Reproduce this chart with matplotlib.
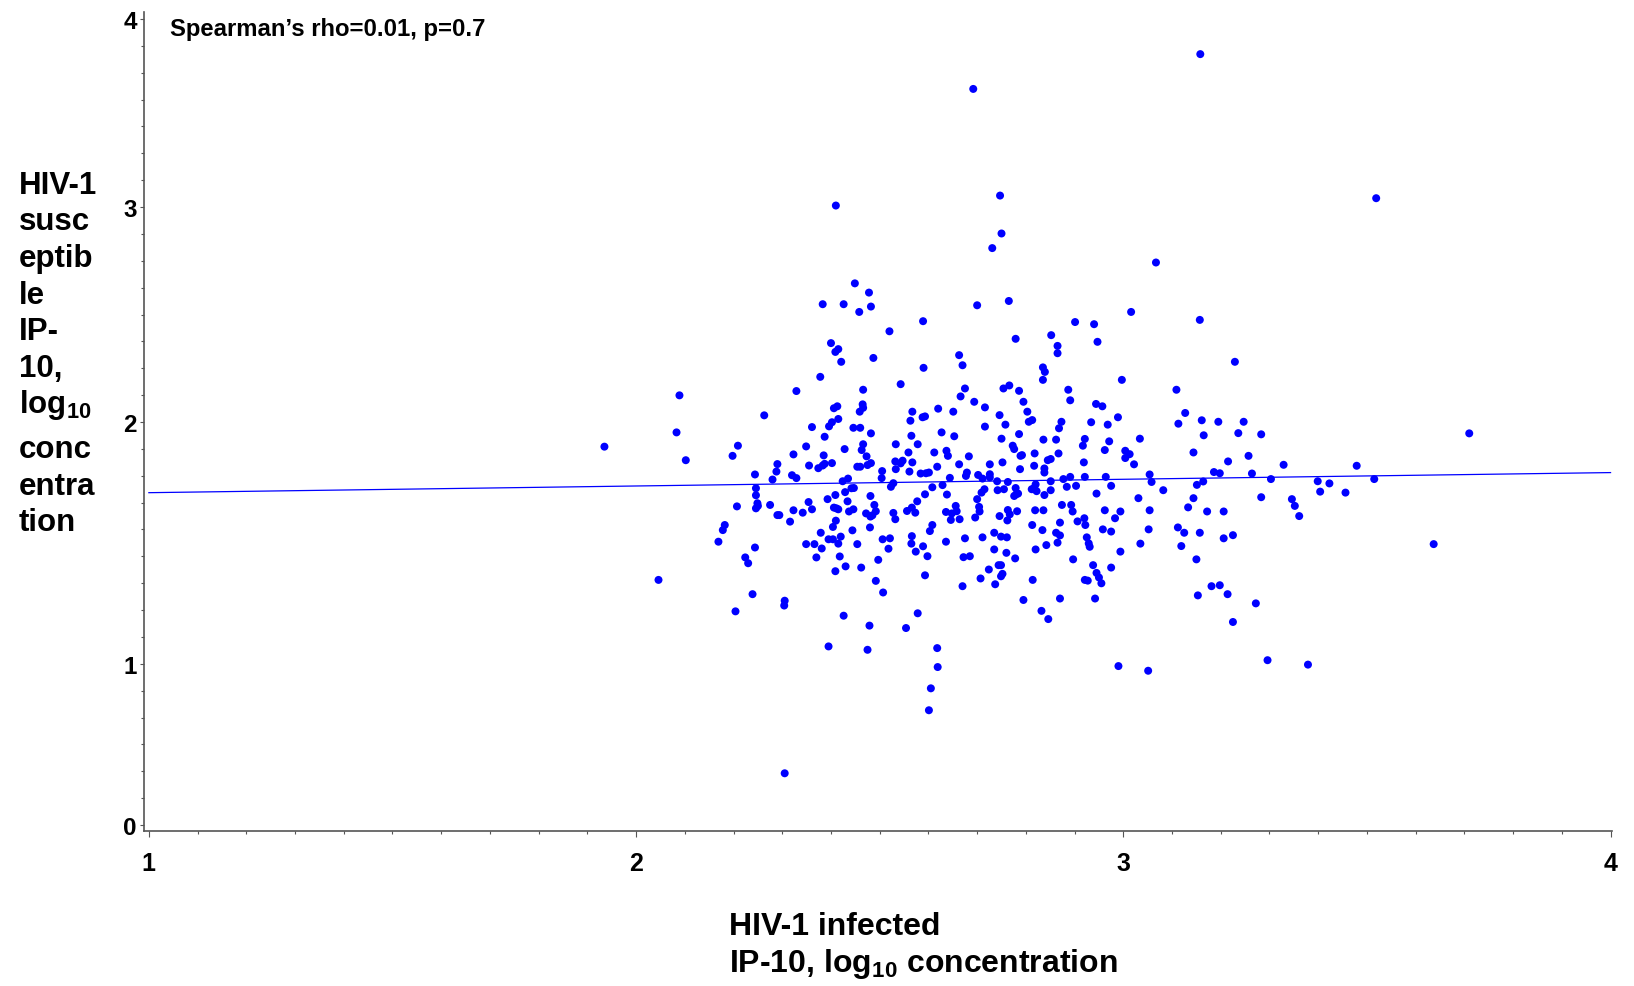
import numpy as np
import matplotlib
matplotlib.use("Agg")
import matplotlib.pyplot as plt
from matplotlib.ticker import FixedLocator

plt.rcParams['font.family'] = ['Liberation Sans', 'DejaVu Sans']
plt.rcParams['font.weight'] = 'bold'
plt.rcParams['mathtext.fontset'] = 'custom'
plt.rcParams['mathtext.rm'] = 'Liberation Sans:bold'
plt.rcParams['mathtext.bf'] = 'Liberation Sans:bold'
plt.rcParams['mathtext.default'] = 'bf'

# IP-10, log10 concentration: HIV-1 infected partner (x) vs susceptible partner (y)
infected = [
    3.158, 2.692, 3.519, 2.747, 2.410, 2.750, 2.731, 3.067, 2.449, 2.478,
    2.383, 2.426, 2.458, 2.482, 2.589, 2.520, 2.400, 2.409, 2.415, 2.421,
    2.487, 2.590, 2.378, 2.543, 2.329, 2.466, 2.089, 2.263, 2.406, 2.413,
    2.465, 2.466, 2.459, 2.567, 2.620, 2.563, 2.588, 2.593, 2.083, 2.361,
    2.396, 2.402, 2.415, 2.446, 2.460, 2.387, 2.482, 2.565, 2.627, 1.935,
    2.209, 2.198, 2.102, 2.349, 2.428, 2.466, 2.463, 2.533, 2.578, 2.559,
    2.612, 2.637, 2.640, 2.323, 2.385, 2.473, 2.290, 2.288, 2.355, 2.374,
    2.383, 2.387, 2.402, 2.454, 2.460, 2.475, 2.482, 2.532, 2.533, 2.543,
    2.547, 2.567, 2.561, 2.618, 2.505, 2.504, 2.584, 2.595, 2.601, 2.244,
    2.280, 2.320, 2.329, 2.424, 2.435, 2.246, 2.246, 2.249, 2.246, 2.250,
    2.207, 2.275, 2.290, 2.294, 2.316, 2.323, 2.342, 2.354, 2.361, 2.393,
    2.409, 2.406, 2.411, 2.415, 2.429, 2.434, 2.442, 2.447, 2.437, 2.446,
    2.481, 2.489, 2.492, 2.472, 2.481, 2.485, 2.523, 2.528, 2.528, 2.532,
    2.556, 2.566, 2.573, 2.577, 2.593, 2.608, 2.629, 2.638, 2.636, 2.182,
    2.178, 2.169, 2.244, 2.224, 2.230, 2.046, 2.239, 2.204, 2.305, 2.304,
    2.349, 2.366, 2.379, 2.381, 2.395, 2.404, 2.415, 2.420, 2.404, 2.410,
    2.444, 2.454, 2.480, 2.370, 2.418, 2.409, 2.430, 2.462, 2.497, 2.506,
    2.521, 2.518, 2.492, 2.507, 2.566, 2.565, 2.574, 2.589, 2.598, 2.593,
    2.608, 2.603, 2.636, 2.426, 2.479, 2.554, 2.578, 2.395, 2.475, 2.618,
    2.619, 2.605, 2.601, 2.305, 2.990, 3.051, 3.296, 3.379,
    2.700, 2.765, 3.016, 3.157, 2.901, 2.940, 2.947, 2.852, 2.779, 2.865,
    2.865, 2.663, 2.670, 2.835, 2.839, 2.835, 3.229, 2.997, 2.675, 2.666,
    2.754, 2.766, 2.786, 2.887, 2.891, 3.109, 2.694, 2.716, 2.795, 2.651,
    2.803, 2.746, 2.944, 2.957, 2.989, 3.127, 3.113, 3.161, 3.195, 3.247,
    2.716, 2.758, 2.813, 2.806, 2.873, 2.868, 2.934, 2.968, 2.653, 2.786,
    2.750, 2.836, 2.862, 2.921, 2.917, 2.971, 3.034, 2.773, 2.776, 3.165,
    3.236, 3.283, 2.683, 2.818, 2.789, 2.792, 2.867, 2.962, 3.004, 3.013,
    3.004, 3.144, 3.257, 2.663, 2.726, 2.752, 2.817, 2.845, 2.851, 2.919,
    3.022, 3.215, 3.329, 2.788, 2.838, 2.838, 2.644, 2.679, 2.677, 2.702,
    2.711, 2.726, 2.726, 2.741, 2.763, 2.851, 2.877, 2.891, 2.921, 2.964,
    3.054, 3.058, 3.186, 3.198, 3.264, 3.303, 3.399, 3.423, 3.404, 2.715,
    2.709, 2.742, 2.755, 2.779, 2.780, 2.776, 2.784, 2.812, 2.820, 2.822,
    2.817, 2.838, 2.851, 2.884, 2.903, 2.945, 2.975, 3.031, 3.082, 3.151,
    3.164, 3.144, 3.133, 3.283, 3.346, 3.352, 3.361, 2.700, 2.704, 2.705,
    2.656, 2.658, 2.648, 2.646, 2.664, 2.696, 2.746, 2.763, 2.767, 2.762,
    2.782, 2.819, 2.836, 2.874, 2.893, 2.896, 2.906, 2.920, 2.922, 2.962,
    2.983, 2.994, 3.054, 3.172, 3.206, 2.813, 2.870, 2.834, 2.862, 2.870,
    2.865, 2.735, 2.749, 2.761, 2.711, 2.675, 2.925, 2.929, 2.931, 2.958,
    2.975, 3.052, 3.112, 3.125, 3.157, 3.206, 3.225, 3.035, 3.119, 2.735,
    2.760, 2.778, 2.820, 2.842, 2.672, 2.685, 2.897, 2.994, 3.150, 2.744,
    2.749, 2.752, 2.749, 2.724, 2.707, 2.737, 2.670, 2.814, 2.938, 2.945,
    2.950, 2.955, 2.921, 2.927, 2.975, 2.795, 2.870, 2.942, 2.832, 2.846,
    3.153, 3.181, 3.198, 3.214, 3.272, 3.225,
    3.710, 3.479, 3.515, 3.456, 3.637,
]

susceptible = [
    3.813, 3.628, 3.047, 3.061, 3.008, 2.877, 2.809, 2.742, 2.645, 2.602,
    2.548, 2.548, 2.512, 2.537, 2.469, 2.422, 2.367, 2.326, 2.339, 2.280,
    2.298, 2.252, 2.210, 2.176, 2.144, 2.150, 2.124, 2.031, 2.064, 2.073,
    2.082, 2.066, 2.048, 2.048, 2.062, 2.006, 2.022, 2.026, 1.957, 1.979,
    1.982, 1.999, 2.014, 1.976, 1.976, 1.939, 1.953, 1.943, 1.957, 1.898,
    1.902, 1.860, 1.842, 1.899, 1.888, 1.908, 1.884, 1.908, 1.908, 1.874,
    1.874, 1.881, 1.860, 1.866, 1.862, 1.858, 1.826, 1.795, 1.820, 1.809,
    1.820, 1.827, 1.830, 1.815, 1.815, 1.822, 1.830, 1.837, 1.805, 1.829,
    1.840, 1.833, 1.795, 1.815, 1.797, 1.768, 1.787, 1.788, 1.791, 1.783,
    1.762, 1.780, 1.768, 1.755, 1.766, 1.726, 1.697, 1.664, 1.643, 1.653,
    1.651, 1.657, 1.615, 1.615, 1.588, 1.635, 1.625, 1.669, 1.639, 1.681,
    1.698, 1.646, 1.643, 1.639, 1.710, 1.672, 1.726, 1.727, 1.630, 1.639,
    1.694, 1.657, 1.631, 1.622, 1.609, 1.614, 1.732, 1.747, 1.624, 1.598,
    1.632, 1.646, 1.625, 1.672, 1.701, 1.730, 1.739, 1.700, 1.628, 1.574,
    1.553, 1.505, 1.481, 1.440, 1.416, 1.347, 1.288, 1.217, 1.261, 1.241,
    1.495, 1.495, 1.542, 1.477, 1.515, 1.515, 1.497, 1.526, 1.566, 1.592,
    1.552, 1.495, 1.564, 1.440, 1.444, 1.383, 1.403, 1.398, 1.430, 1.515,
    1.519, 1.476, 1.343, 1.295, 1.528, 1.497, 1.464, 1.486, 1.445, 1.366,
    1.574, 1.549, 1.505, 1.199, 1.158, 1.148, 1.209, 1.072, 1.058, 1.065,
    0.980, 0.848, 0.712, 0.321, 0.986, 0.957, 1.015, 0.995,
    2.543, 2.563, 2.512, 2.475, 2.465, 2.455, 2.373, 2.404, 2.387, 2.354,
    2.320, 2.311, 2.264, 2.254, 2.233, 2.196, 2.280, 2.196, 2.156, 2.119,
    2.156, 2.170, 2.145, 2.150, 2.101, 2.150, 2.094, 2.068, 2.094, 2.048,
    2.048, 2.032, 2.084, 2.073, 2.022, 2.042, 1.993, 2.008, 2.001, 2.001,
    1.981, 1.989, 2.009, 2.001, 2.001, 1.974, 1.999, 1.989, 1.941, 1.950,
    1.931, 1.927, 1.927, 1.930, 1.902, 1.920, 1.931, 1.902, 1.888, 1.945,
    1.954, 1.949, 1.858, 1.870, 1.860, 1.863, 1.870, 1.884, 1.881, 1.867,
    1.851, 1.874, 1.860, 1.825, 1.825, 1.833, 1.819, 1.842, 1.847, 1.833,
    1.825, 1.837, 1.823, 1.805, 1.808, 1.791, 1.769, 1.791, 1.777, 1.781,
    1.766, 1.784, 1.771, 1.755, 1.752, 1.755, 1.764, 1.773, 1.773, 1.773,
    1.783, 1.752, 1.793, 1.788, 1.787, 1.764, 1.755, 1.746, 1.712, 1.722,
    1.708, 1.718, 1.722, 1.727, 1.701, 1.694, 1.704, 1.722, 1.742, 1.714,
    1.727, 1.698, 1.718, 1.732, 1.736, 1.704, 1.736, 1.685, 1.718, 1.740,
    1.754, 1.685, 1.647, 1.689, 1.681, 1.653, 1.611, 1.681, 1.649, 1.630,
    1.653, 1.631, 1.622, 1.595, 1.598, 1.605, 1.611, 1.636, 1.618, 1.593,
    1.631, 1.635, 1.635, 1.657, 1.657, 1.630, 1.589, 1.602, 1.574, 1.635,
    1.602, 1.630, 1.635, 1.630, 1.630, 1.574, 1.584, 1.553, 1.542, 1.531,
    1.501, 1.542, 1.526, 1.523, 1.523, 1.519, 1.523, 1.498, 1.484, 1.556,
    1.547, 1.556, 1.564, 1.542, 1.542, 1.519, 1.532, 1.497, 1.487, 1.473,
    1.459, 1.436, 1.473, 1.491, 1.441, 1.445, 1.432, 1.464, 1.432, 1.408,
    1.408, 1.372, 1.362, 1.390, 1.353, 1.329, 1.321, 1.347, 1.408, 1.376,
    1.357, 1.333, 1.347, 1.344, 1.398, 1.264, 1.270, 1.270, 1.219, 1.185,
    1.283, 1.321, 1.325, 1.288, 1.250, 1.173,
    1.953, 1.819, 1.764, 1.708, 1.495,
]

# fitted line as drawn in the original
fit_intercept = 1.680
fit_slope = 0.0277
spearman_rho = 0.01
spearman_p = 0.7

x_ticks = [1, 2, 3, 4]
y_ticks = [0, 1, 2, 3, 4]
# the y axis of the original has evenly spaced minor ticks, but the labels
# sit 6, 9, 8 and 7 minor steps apart
y_tick_steps = [0, 6, 15, 23, 30]

V_KNOTS = [-1] + y_ticks + [5]
U_KNOTS = [-6] + y_tick_steps + [37]


def fwd(v):
    return np.interp(v, V_KNOTS, U_KNOTS)


def inv(u):
    return np.interp(u, U_KNOTS, V_KNOTS)


W, H = 1634, 987
fig = plt.figure(figsize=(W / 100, H / 100), dpi=100)
ax = fig.add_axes([144 / W, 1 - 832 / H, (1612 - 144) / W, (832 - 13) / H])

ax.scatter(infected, susceptible, s=33, color='#0000ff', edgecolors='none', zorder=3)

x_range = np.array([x_ticks[0], x_ticks[-1]], dtype=float)
ax.plot(x_range, fit_intercept + fit_slope * x_range, color='#0000ff', lw=0.9, zorder=2)

ax.set_yscale('function', functions=(fwd, inv))
ax.set_xlim(0.99, 4.003)
ax.set_ylim(-0.037, 4.037)

ax.xaxis.set_major_locator(FixedLocator(x_ticks))
ax.xaxis.set_minor_locator(FixedLocator(np.arange(1, 4.001, 0.1)))
ax.set_xticklabels([str(t) for t in x_ticks])
ax.yaxis.set_major_locator(FixedLocator(y_ticks))
ax.yaxis.set_minor_locator(FixedLocator(inv(np.arange(0, 31))))
ax.set_yticklabels([str(t) for t in y_ticks])

for side in ['top', 'right']:
    ax.spines[side].set_visible(False)
for side in ['left', 'bottom']:
    ax.spines[side].set_color('#555555')
    ax.spines[side].set_linewidth(1.2)

ax.tick_params(axis='x', which='major', length=4.5, width=0.8, color='#555555',
               pad=10, labelsize=18)
ax.tick_params(axis='x', which='minor', length=2.5, width=0.8, color='#555555')
ax.tick_params(axis='y', which='major', length=2.7, width=0.8, color='#555555',
               pad=2.5, labelsize=17.5)
ax.tick_params(axis='y', which='minor', length=2.0, width=0.8, color='#555555')


def fig_text(px, py, s, **kw):
    fig.text(px / W, 1 - py / H, s, fontweight='bold', **kw)


fig_text(170, 36, f"Spearman\u2019s rho={spearman_rho}, p={spearman_p}",
         fontsize=17.2, va='baseline', ha='left')

# y label, wrapped into a narrow column like the original
ylabel_lines = ['HIV-1', 'susc', 'eptib', 'le', 'IP-', '10,', r'log$_{10}$',
                'conc', 'entra', 'tion']
ylabel_base = [194, 230.5, 267, 303.5, 340, 376.5, 413, 458, 495, 531]
for line, yb in zip(ylabel_lines, ylabel_base):
    fig_text(19, yb, line, fontsize=22.5, va='baseline', ha='left')

fig_text(729, 935, 'HIV-1 infected', fontsize=23, va='baseline', ha='left')
fig_text(729, 972, r'IP-10, log$_{10}$ concentration', fontsize=23,
         va='baseline', ha='left')

fig.savefig('out.png', dpi=100)
